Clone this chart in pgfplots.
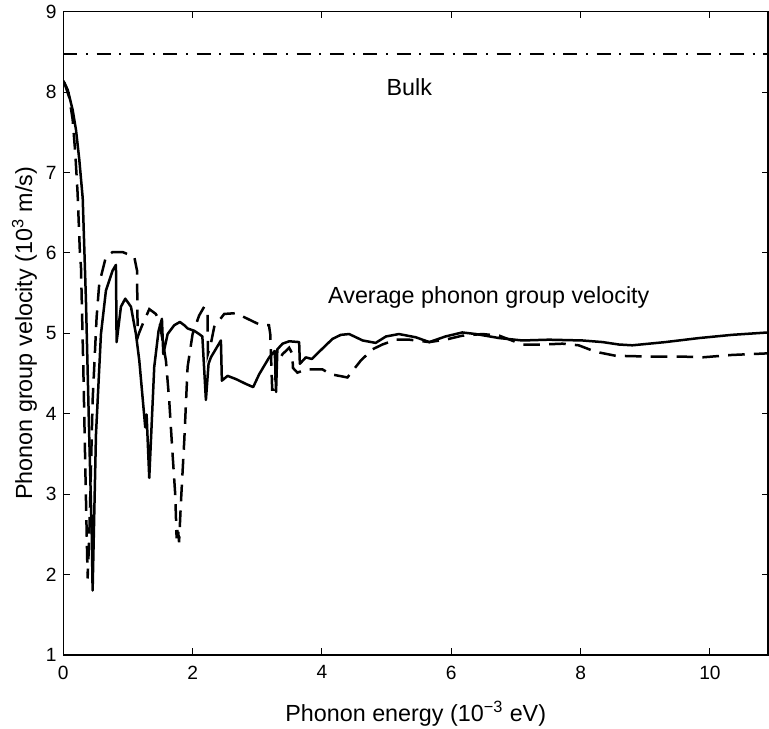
\documentclass[border=0pt]{standalone}
\usepackage{fontspec}
\setmainfont{Liberation Sans}
\usepackage{pgfplots}
\pgfplotsset{compat=1.18}

\begin{document}
\fontsize{11.5}{13.5}\selectfont
\begin{tikzpicture}
  \begin{axis}[
      scale only axis,
      width=423pt, height=386pt,
      xmin=0, xmax=10.9,
      ymin=1, ymax=9,
      xtick={0,2,4,6,8,10},
      ytick={1,2,...,9},
      tick align=inside,
      major tick length=4pt,
      axis line style={line width=0.9pt},
      every tick/.style={black, line width=0.6pt},
      /pgf/number format/assume math mode=true,
      xticklabel style={yshift=-2.5pt},
      xlabel={Phonon energy (10\textsuperscript{−3} eV)},
      ylabel={Phonon group velocity (10\textsuperscript{3} m/s)},
      xlabel style={font=\fontsize{14}{16}\selectfont, at={(axis description cs:0.5,-0.092)}, anchor=center},
      ylabel style={font=\fontsize{14}{16}\selectfont, at={(axis description cs:-0.055,0.5)}, anchor=center},
      clip=true,
    ]
    % bulk value
    \addplot[black, line width=1.1pt, dash pattern=on 8.4pt off 5.2pt on 1.2pt off 5.2pt]
      coordinates {(0,8.47) (10.9,8.47)};
    % solid curve
    \addplot[black, line width=1.5pt, line join=round] coordinates {
      (0,8.14)(0.067,8.03)(0.144,7.78)(0.196,7.53)(0.247,7.16)(0.30,6.68)(0.35,5.41)(0.40,3.74)(0.44,2.49)(0.453,1.80)
      (0.505,3.74)(0.582,4.99)(0.659,5.53)(0.762,5.78)(0.814,5.85)(0.824,4.89)(0.891,5.33)(0.958,5.43)(1.046,5.33)(1.123,4.99)
      (1.175,4.66)(1.267,3.83)(1.288,3.99)(1.329,3.20)(1.406,4.58)(1.473,5.03)(1.525,5.18)(1.546,4.74)(1.613,4.99)(1.716,5.10)
      (1.803,5.14)(1.870,5.10)(1.922,5.06)(2.025,5.03)(2.10,4.99)(2.15,4.96)(2.205,4.17)(2.246,4.62)(2.282,4.70)(2.437,4.91)
      (2.452,4.41)(2.54,4.47)(2.669,4.43)(2.823,4.37)(2.936,4.33)(3.029,4.49)(3.184,4.70)(3.27,4.78)(3.29,4.27)(3.31,4.80)
      (3.39,4.87)(3.493,4.90)(3.647,4.89)(3.658,4.62)(3.75,4.70)(3.843,4.68)(4.008,4.81)(4.163,4.93)(4.291,4.98)(4.42,4.99)
      (4.63,4.91)(4.83,4.88)(4.99,4.96)(5.19,4.99)(5.45,4.95)(5.66,4.89)(5.91,4.96)(6.17,5.01)(6.38,4.99)(6.74,4.94)
      (7.10,4.91)(7.51,4.92)(8.03,4.91)(8.34,4.89)(8.59,4.86)(8.80,4.85)(9.31,4.89)(9.83,4.94)(10.34,4.98)(10.90,5.01)
    };
    % dashed curve
    \addplot[black, line width=1.5pt, dash pattern=on 10pt off 5.5pt] coordinates {
      (0.015,8.12)(0.093,7.93)(0.144,7.66)(0.185,7.24)(0.221,6.74)(0.257,5.99)(0.273,5.83)(0.309,4.58)(0.34,3.33)(0.376,1.95)
      (0.402,2.49)(0.453,4.16)(0.515,5.20)(0.556,5.62)(0.659,5.95)(0.762,6.01)(0.917,6.01)(1.097,5.95)(1.14,5.78)(1.15,4.95)
      (1.17,5.00)(1.22,5.10)(1.33,5.30)(1.43,5.24)(1.484,5.16)(1.587,4.66)(1.638,4.16)(1.69,3.49)(1.731,2.99)(1.752,2.45)
      (1.77,2.60)(1.79,2.40)(1.819,2.90)(1.870,3.66)(1.922,4.58)(1.999,4.99)(2.10,5.22)(2.179,5.33)(2.231,5.24)(2.235,4.74)
      (2.282,4.87)(2.334,5.08)(2.488,5.24)(2.669,5.25)(2.90,5.16)(3.029,5.11)(3.18,5.10)(3.20,4.99)(3.23,4.30)(3.26,4.30)
      (3.30,4.62)(3.39,4.74)(3.493,4.82)(3.544,4.74)(3.55,4.57)(3.62,4.51)(3.75,4.55)(4.008,4.55)(4.137,4.49)(4.394,4.45)
      (4.472,4.53)(4.60,4.66)(4.78,4.80)(4.935,4.86)(5.14,4.92)(5.35,4.92)(5.66,4.89)(5.91,4.92)(6.17,4.97)(6.48,4.99)
      (6.74,4.97)(7.10,4.86)(7.41,4.86)(7.72,4.87)(7.97,4.85)(8.23,4.77)(8.54,4.72)(9.06,4.71)(9.57,4.71)(9.88,4.70)
      (10.34,4.73)(10.90,4.75)
    };
    \node[font=\fontsize{14}{16}\selectfont] at (axis cs:5.35,8.06) {Bulk};
    \node[font=\fontsize{14}{16}\selectfont] at (axis cs:6.58,5.45) {Average phonon group velocity};
  \end{axis}
  \pgfresetboundingbox
  \path (current axis.south west) ++(-38pt,-44.5pt) rectangle ([xshift=0.5pt,yshift=7pt]current axis.north east);
\end{tikzpicture}
\end{document}
